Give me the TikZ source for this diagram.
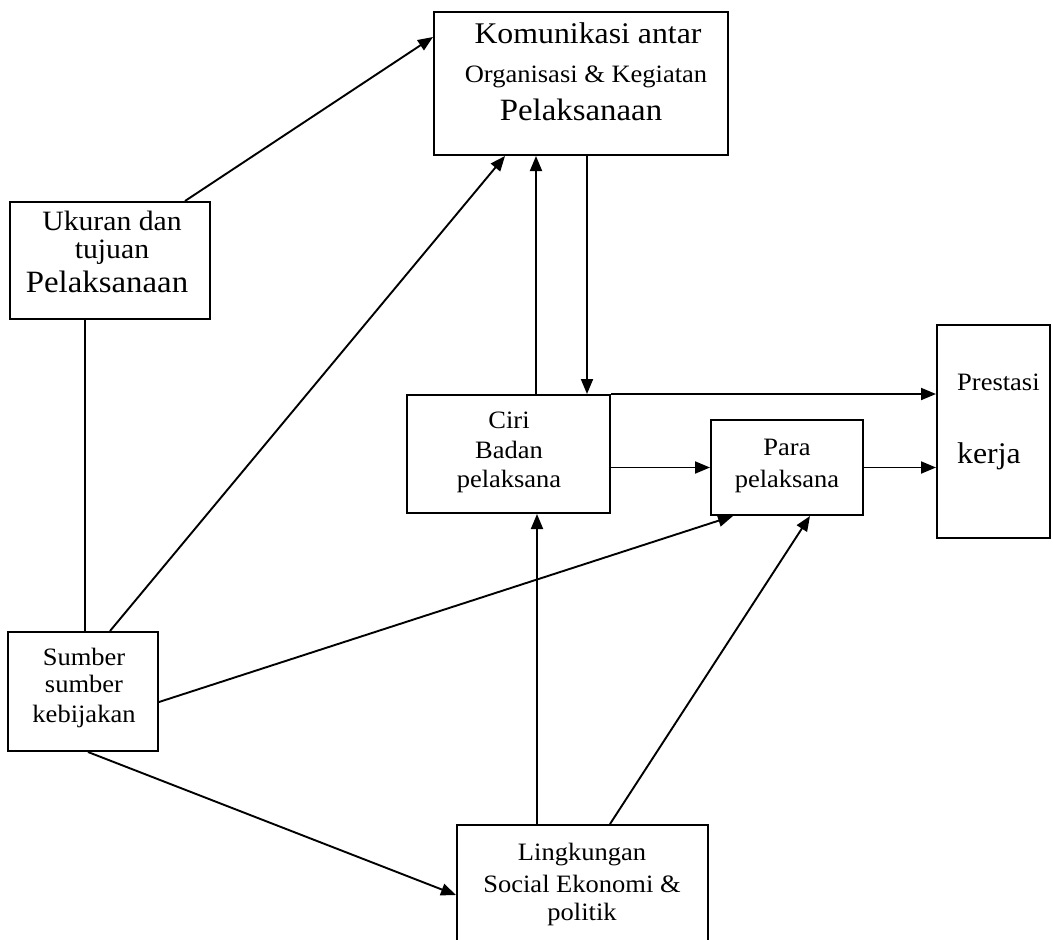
\documentclass[tikz,border=0pt]{standalone}
\usepackage{fontspec}
\setmainfont[FakeStretch=1.06]{Liberation Serif}
\usetikzlibrary{arrows.meta}

\tikzset{
  box/.style={draw, line width=2pt, inner sep=0pt, minimum width=#1},
  lbl/.style={anchor=base, inner sep=0pt, font=\fontsize{25}{27}\selectfont},
  big/.style={anchor=base, inner sep=0pt, font=\fontsize{30}{32}\selectfont},
  huge/.style={anchor=base, inner sep=0pt, font=\fontsize{31}{33}\selectfont},
  mid/.style={anchor=base, inner sep=0pt, font=\fontsize{28}{30}\selectfont},
  arr/.style={line width=1.9pt, -{Triangle[length=15pt,width=12pt]}},
  ln/.style={line width=1.9pt}
}

\begin{document}
\begin{tikzpicture}[x=1pt, y=-1pt]
\useasboundingbox[fill=white] (0,0) rectangle (1053,940);

% boxes
\node[box=294pt, minimum height=143pt] (top) at (581,83.5) {};
\node[box=200pt, minimum height=117pt] (uk)  at (110,260.5) {};
\node[box=150pt, minimum height=119pt] (sm)  at (83,691.5) {};
\node[box=203pt, minimum height=118pt] (ciri) at (508.5,454) {};
\node[box=152pt, minimum height=95pt]  (para) at (787,467.5) {};
\node[box=113pt, minimum height=213pt] (pr)  at (993.5,431.5) {};
\node[box=251pt, minimum height=135pt] (lk)  at (582.5,892.5) {};

% texts
\node[big] (top1) at (588,43) {Komunikasi antar};
\node[lbl] (top2) at (586,82) {Organisasi \& Kegiatan};
\node[huge] (top3) at (581,120) {Pelaksanaan};

\node[mid] (uk1) at (112,230) {Ukuran dan};
\node[mid] (uk2) at (112,258) {tujuan};
\node[huge] (uk3) at (107,292) {Pelaksanaan};

\node[lbl] (sm1) at (84,665) {Sumber};
\node[lbl] (sm2) at (84,692) {sumber};
\node[lbl] (sm3) at (84,722) {kebijakan};

\node[lbl] (ci1) at (509,428) {Ciri};
\node[lbl] (ci2) at (509,458) {Badan};
\node[lbl] (ci3) at (509,487) {pelaksana};

\node[lbl] (pa1) at (787,455) {Para};
\node[lbl] (pa2) at (787,487) {pelaksana};

\node[lbl, anchor=base west] (pr1) at (957,390) {Prestasi};
\node[big, anchor=base west] (pr2) at (957,463) {kerja};

\node[lbl] (lk1) at (582,860) {Lingkungan};
\node[lbl] (lk2) at (582,892) {Social Ekonomi \&};
\node[lbl] (lk3) at (582,920) {politik};

% connectors
\draw[arr] ([xshift=75pt]uk.north) -- ([yshift=46.5pt]top.west);
\draw[arr] ([xshift=27pt]sm.north) -- ([xshift=-76pt]top.south);
\draw[arr] ([xshift=27.5pt]ciri.north) -- ([xshift=-45pt]top.south);
\draw[arr] ([xshift=6pt]top.south) -- ([xshift=78.5pt]ciri.north);
\draw[arr] (ciri.north east) -- (ciri.north east -| pr.west);
\draw[arr] (ciri.east |- para.west) -- (para.west);
\draw[arr] (para.east) -- (pr.west |- para.east);
\draw[arr] ([yshift=-10.5pt]sm.east) -- ([xshift=-54pt]para.south);
\draw[arr] ([xshift=5pt]sm.south) -- ([yshift=-2.5pt]lk.west);
\draw[arr] ([xshift=-45.5pt]lk.north) -- ([xshift=28.5pt]ciri.south);
\draw[arr] ([xshift=27.5pt]lk.north) -- ([xshift=23pt]para.south);
\draw[ln] ([xshift=-25pt]uk.south) -- ([xshift=2pt]sm.north);
\end{tikzpicture}
\end{document}
